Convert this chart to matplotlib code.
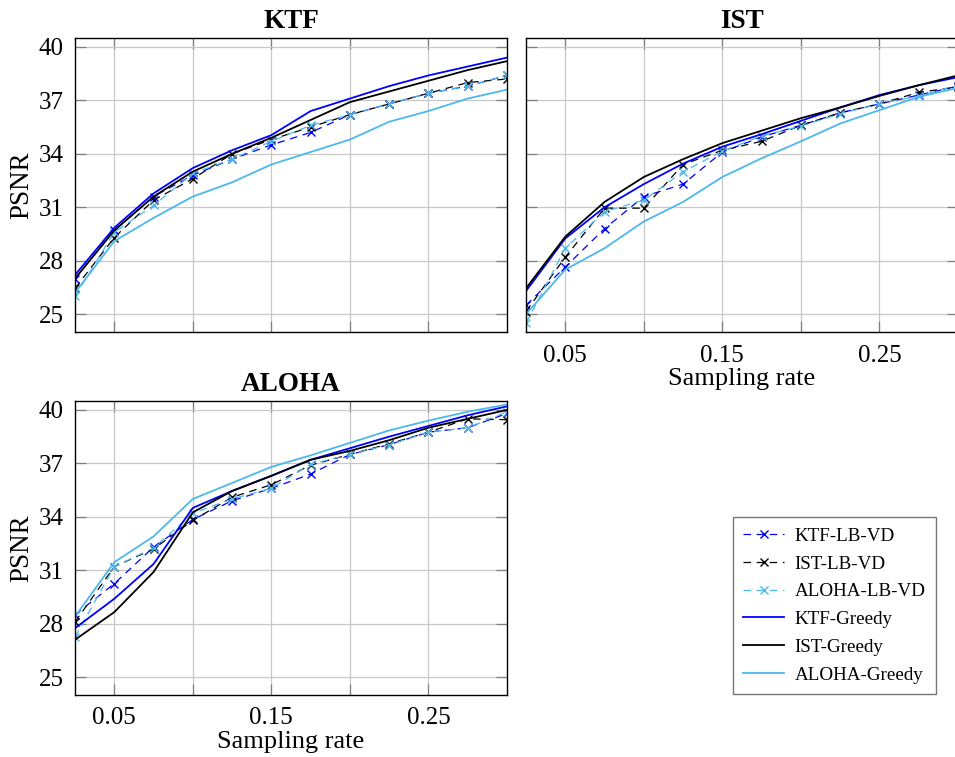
import matplotlib
matplotlib.use("Agg")
import matplotlib.pyplot as plt
import numpy as np

plt.rcParams['font.family'] = ['Liberation Serif', 'DejaVu Serif']
plt.rcParams['mathtext.fontset'] = 'stix'

rates = [0.025, 0.05, 0.075, 0.1, 0.125, 0.15, 0.175, 0.2, 0.225, 0.25, 0.275, 0.3]
xticks = [0.05, 0.15, 0.25]
xtick_labels = ["0.05", "0.15", "0.25"]
yticks = [25, 28, 31, 34, 37, 40]

# KTF panel
ktf_ktf_lbvd = [27.0, 29.7, 31.6, 32.8, 33.7, 34.5, 35.2, 36.2, 36.8, 37.4, 37.8, 38.4]
ktf_ist_lbvd = [26.45, 29.3, 31.4, 32.6, 34.0, 34.8, 35.5, 36.2, 36.8, 37.4, 38.0, 38.2]
ktf_aloha_lbvd = [26.0, 29.6, 31.1, 32.9, 33.7, 34.7, 35.6, 36.2, 36.8, 37.4, 37.8, 38.4]
ktf_ktf_greedy = [27.2, 29.85, 31.78, 33.2, 34.2, 35.05, 36.4, 37.1, 37.8, 38.4, 38.9, 39.4]
ktf_ist_greedy = [27.0, 29.7, 31.6, 33.0, 34.0, 34.9, 35.9, 36.9, 37.5, 38.1, 38.7, 39.2]
ktf_aloha_greedy = [26.2, 29.1, 30.4, 31.6, 32.4, 33.4, 34.1, 34.8, 35.8, 36.4, 37.1, 37.6]

# IST panel
ist_ktf_lbvd = [25.5, 27.65, 29.8, 31.6, 32.3, 34.1, 34.95, 35.6, 36.3, 36.8, 37.3, 37.8]
ist_ist_lbvd = [25.15, 28.2, 30.95, 30.95, 33.4, 34.2, 34.7, 35.6, 36.3, 36.8, 37.45, 37.75]
ist_aloha_lbvd = [24.5, 28.7, 30.75, 31.4, 33.0, 34.15, 35.0, 35.55, 36.25, 36.8, 37.25, 37.85]
ist_ktf_greedy = [26.3, 29.25, 31.0, 32.3, 33.45, 34.4, 35.1, 35.85, 36.6, 37.3, 37.85, 38.3]
ist_ist_greedy = [26.45, 29.35, 31.3, 32.7, 33.7, 34.6, 35.3, 36.0, 36.6, 37.25, 37.85, 38.4]
ist_aloha_greedy = [25.0, 27.5, 28.7, 30.2, 31.3, 32.7, 33.75, 34.7, 35.7, 36.45, 37.2, 37.7]

# ALOHA panel
aloha_ktf_lbvd = [28.5, 30.25, 32.3, 33.85, 34.9, 35.6, 36.4, 37.5, 38.05, 38.75, 39.0, 39.8]
aloha_ist_lbvd = [28.1, 31.2, 32.2, 33.8, 35.1, 35.8, 36.9, 37.5, 38.1, 38.75, 39.5, 39.45]
aloha_aloha_lbvd = [27.25, 31.2, 32.25, 34.2, 35.0, 35.6, 36.95, 37.5, 38.05, 38.75, 39.0, 39.9]
aloha_ktf_greedy = [27.75, 29.4, 31.35, 34.5, 35.45, 36.3, 37.2, 37.85, 38.5, 39.1, 39.7, 40.2]
aloha_ist_greedy = [27.1, 28.65, 30.9, 34.25, 35.45, 36.3, 37.2, 37.7, 38.3, 39.0, 39.5, 40.0]
aloha_aloha_greedy = [28.4, 31.45, 32.9, 35.0, 35.9, 36.8, 37.45, 38.15, 38.85, 39.4, 39.9, 40.3]

labels = ["KTF-LB-VD", "IST-LB-VD", "ALOHA-LB-VD", "KTF-Greedy", "IST-Greedy", "ALOHA-Greedy"]
colors = ["#0000ff", "#000000", "#4cb8ec"]

W, H = 955, 757
fig = plt.figure(figsize=(W / 100, H / 100), dpi=100)

def frac(l, t, r, b):
    return [l / W, 1 - b / H, (r - l) / W, (b - t) / H]

ax1 = fig.add_axes(frac(75, 38, 507, 332))
ax2 = fig.add_axes(frac(526, 38, 958, 332))
ax3 = fig.add_axes(frac(75, 401, 507, 695))

panels = [
    (ax1, "KTF", [ktf_ktf_lbvd, ktf_ist_lbvd, ktf_aloha_lbvd, ktf_ktf_greedy, ktf_ist_greedy, ktf_aloha_greedy]),
    (ax2, "IST", [ist_ktf_lbvd, ist_ist_lbvd, ist_aloha_lbvd, ist_ktf_greedy, ist_ist_greedy, ist_aloha_greedy]),
    (ax3, "ALOHA", [aloha_ktf_lbvd, aloha_ist_lbvd, aloha_aloha_lbvd, aloha_ktf_greedy, aloha_ist_greedy, aloha_aloha_greedy]),
]

handles = []
for ax, title, series in panels:
    hs = []
    for i in range(3):
        h, = ax.plot(rates, series[i], linestyle=(0, (6, 4.5)), color=colors[i], lw=0.9,
                     marker='x', markersize=6, markeredgewidth=1.0, label=labels[i])
        hs.append(h)
    for i in range(3):
        h, = ax.plot(rates, series[3 + i], linestyle='-', color=colors[i], lw=1.3,
                     label=labels[3 + i])
        hs.append(h)
    handles = hs
    ax.set_xlim(0.025, 0.3)
    ax.set_ylim(24.0, 40.5)
    ax.set_xticks([0.05, 0.1, 0.15, 0.2, 0.25])
    ax.set_yticks(yticks)
    ax.grid(True, color='#c8c8c8', lw=0.9)
    ax.set_axisbelow(True)
    ax.tick_params(direction='in', length=8, width=0.9, color='#808080',
                   top=True, right=True, labelsize=18)
    ax.tick_params(axis='y', pad=8)
    ax.tick_params(axis='x', pad=9)
    for s in ax.spines.values():
        s.set_linewidth(1.0)
    ax.set_title(title, fontsize=19.5, fontweight='bold', pad=7)

# tick labels
ax1.set_xticklabels([])
ax1.set_yticklabels([str(v) for v in yticks])
ax1.set_ylabel("PSNR", fontsize=19.5, labelpad=3)

ax2.set_yticklabels([])
ax2.set_xticklabels(["0.05", "", "0.15", "", "0.25"])
ax2.set_xlabel("Sampling rate", fontsize=19, labelpad=1)

ax3.set_yticklabels([str(v) for v in yticks])
ax3.set_xticklabels(["0.05", "", "0.15", "", "0.25"])
ax3.set_xlabel("Sampling rate", fontsize=19, labelpad=1)
ax3.set_ylabel("PSNR", fontsize=19.5, labelpad=3)

leg = fig.legend(handles, labels, loc='upper left', bbox_to_anchor=(733 / W, 1 - 517 / H),
                 fontsize=13.7, numpoints=1, handlelength=2.15, handletextpad=0.55,
                 labelspacing=0.55, borderpad=0.55, fancybox=False, frameon=True,
                 borderaxespad=0)
leg.get_frame().set_edgecolor('#555555')
leg.get_frame().set_linewidth(1.0)

fig.savefig("out.png", dpi=100)
